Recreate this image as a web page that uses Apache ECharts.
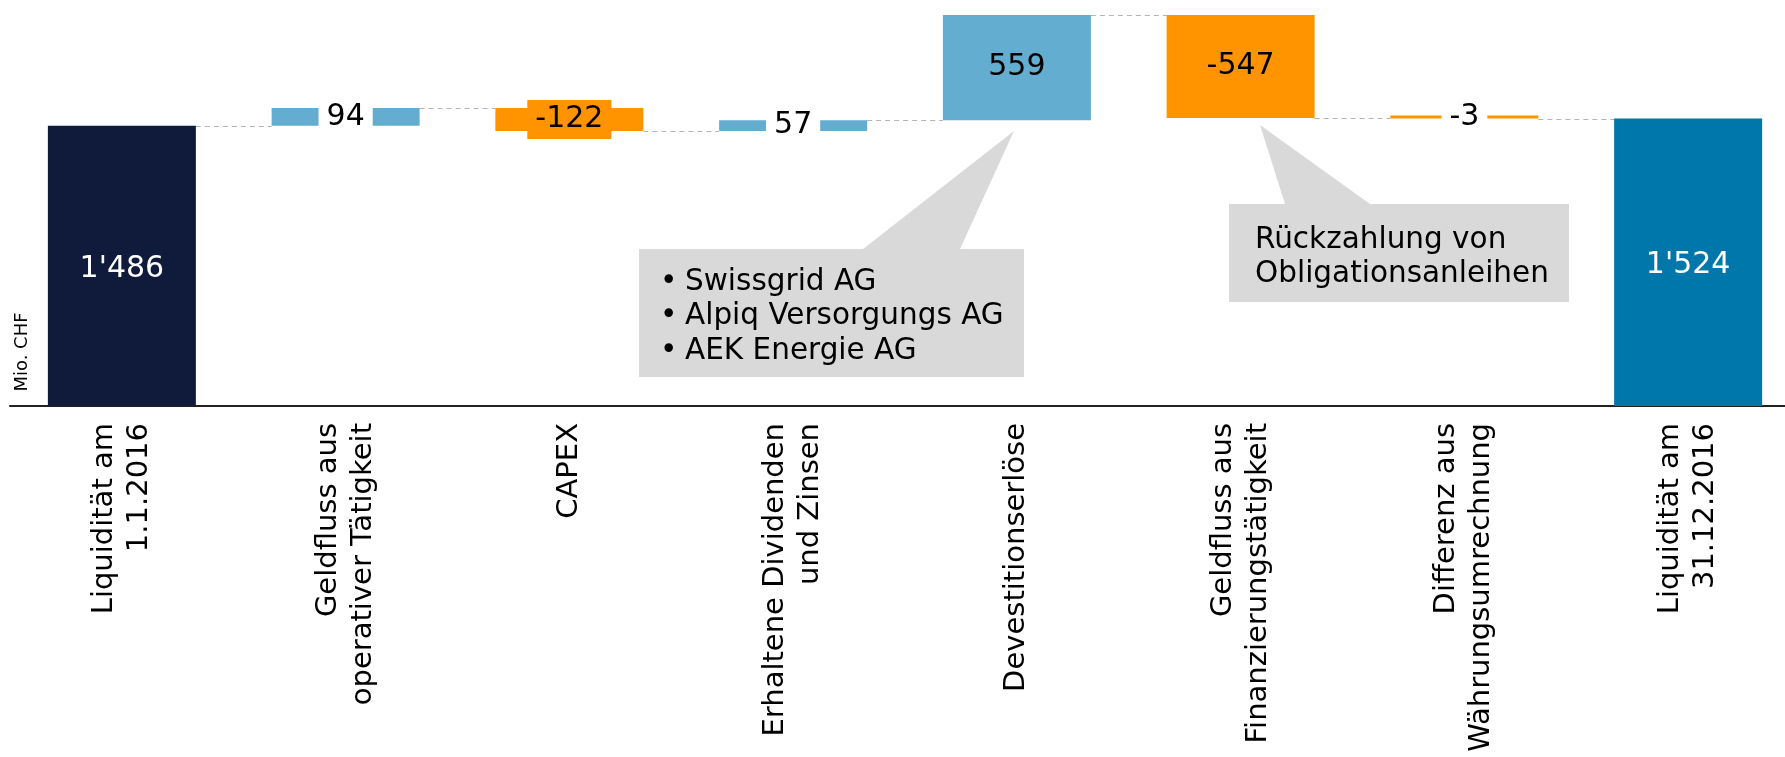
<!DOCTYPE html>
<html>
<head>
<meta charset="utf-8">
<script src="https://cdn.jsdelivr.net/npm/echarts@6/dist/echarts.min.js"></script>
<style>
  html, body { margin: 0; padding: 0; background: #fff; overflow: hidden; }
  #main { width: 1800px; height: 757px; }
</style>
</head>
<body>
<div id="main"></div>
<script>
var categories = [
  'Liquidität am\n1.1.2016',
  'Geldfluss aus\noperativer Tätigkeit',
  'CAPEX',
  'Erhaltene Dividenden\nund Zinsen',
  'Devestitionserlöse',
  'Geldfluss aus\nFinanzierungstätigkeit',
  'Differenz aus\nWährungsumrechnung',
  'Liquidität am\n31.12.2016'
];
var values = [1486, 94, -122, 57, 559, -547, -3, 1524];
var isTotal = [true, false, false, false, false, false, false, true];

var callout1 = ['Swissgrid AG', 'Alpiq Versorgungs AG', 'AEK Energie AG'];
var callout2 = ['Rückzahlung von', 'Obligationsanleihen'];

var FONT = '"DejaVu Sans", Verdana, sans-serif';
var BAR_W = 148;

function fmt(v) {
  return String(v).replace(/\B(?=(\d{3})+(?!\d))/g, "'");
}

// waterfall: transparent base + visible part, running level after each step
var base = [], shown = [], levels = [];
var run = 0;
values.forEach(function (v, i) {
  if (isTotal[i]) {
    base.push(0); shown.push(v); run = v;
  } else if (v >= 0) {
    base.push(run); shown.push(v); run += v;
  } else {
    base.push(run + v); shown.push(-v); run += v;
  }
  levels.push(run);
});

var labelBg = { 1: '#ffffff', 2: '#FF9400', 3: '#ffffff', 6: '#ffffff' };

var shownData = shown.map(function (h, i) {
  var v = values[i];
  var color;
  if (isTotal[i]) color = i === 0 ? '#101B3B' : '#0077AB';
  else color = v >= 0 ? '#63ADD0' : '#FF9400';
  var lab = {
    show: true,
    position: 'inside',
    offset: isTotal[i] ? [0, 3] : [0, 0],
    formatter: fmt(v),
    color: isTotal[i] ? '#ffffff' : '#000000',
    fontFamily: FONT,
    fontSize: 30,
    lineHeight: 35
  };
  if (labelBg[i]) {
    lab.backgroundColor = labelBg[i];
    lab.padding = [2, 8];
  }
  return { value: h, itemStyle: { color: color }, label: lab };
});

var connData = [];
for (var i = 0; i < levels.length - 1; i++) connData.push([i, levels[i]]);

var chart = echarts.init(document.getElementById('main'));

var option = {
  animation: false,
  grid: { left: 10, top: 10, right: 0, height: 396, containLabel: false },
  xAxis: {
    type: 'category',
    data: categories,
    axisLine: { show: true, lineStyle: { color: '#222', width: 2 } },
    axisTick: { show: false },
    axisLabel: {
      interval: 0,
      rotate: 90,
      margin: 17,
      color: '#000',
      fontFamily: FONT,
      fontSize: 29,
      lineHeight: 35
    },
    splitLine: { show: false }
  },
  yAxis: {
    type: 'value',
    min: 0,
    max: 2100,
    show: false,
    splitLine: { show: false }
  },
  series: [
    {
      name: 'base',
      type: 'bar',
      stack: 'w',
      silent: true,
      barWidth: BAR_W,
      itemStyle: { color: 'rgba(0,0,0,0)' },
      data: base
    },
    {
      name: 'wert',
      type: 'bar',
      stack: 'w',
      barWidth: BAR_W,
      barMinHeight: 3,
      data: shownData
    },
    {
      name: 'verbinder',
      type: 'custom',
      silent: true,
      data: connData,
      renderItem: function (params, api) {
        var idx = api.value(0);
        var lvl = api.value(1);
        var p1 = api.coord([idx, lvl]);
        var p2 = api.coord([idx + 1, lvl]);
        var y = Math.round(p1[1]) + 0.5;
        return {
          type: 'line',
          shape: { x1: p1[0] + BAR_W / 2, y1: y, x2: p2[0] - BAR_W / 2, y2: y },
          style: { stroke: '#b4b4b4', lineWidth: 1, lineDash: [5, 4] }
        };
      }
    }
  ],
  graphic: [
    {
      type: 'text',
      x: 22, y: 352,
      rotation: Math.PI / 2,
      style: { text: 'Mio. CHF', fill: '#000', font: '18px ' + FONT, align: 'center', verticalAlign: 'middle' }
    },
    {
      type: 'group',
      children: [
        { type: 'polygon', shape: { points: [[863, 249], [1014, 131], [960, 249]] }, style: { fill: '#D9D9D9' } },
        { type: 'rect', shape: { x: 639, y: 249, width: 385, height: 128 }, style: { fill: '#D9D9D9' } },
        {
          type: 'text', x: 660, y: 265,
          style: { text: '•\n•\n•', fill: '#000', font: '29.5px ' + FONT, lineHeight: 34.5, verticalAlign: 'top' }
        },
        {
          type: 'text', x: 685, y: 265,
          style: { text: callout1.join('\n'), fill: '#000', font: '29.5px ' + FONT, lineHeight: 34.5, verticalAlign: 'top' }
        }
      ]
    },
    {
      type: 'group',
      children: [
        { type: 'polygon', shape: { points: [[1285, 204], [1260, 125], [1370, 204]] }, style: { fill: '#D9D9D9' } },
        { type: 'rect', shape: { x: 1229, y: 204, width: 340, height: 98 }, style: { fill: '#D9D9D9' } },
        {
          type: 'text', x: 1255, y: 223,
          style: { text: callout2.join('\n'), fill: '#000', font: '29.5px ' + FONT, lineHeight: 34, verticalAlign: 'top' }
        }
      ]
    }
  ]
};

chart.setOption(option);
</script>
</body>
</html>
